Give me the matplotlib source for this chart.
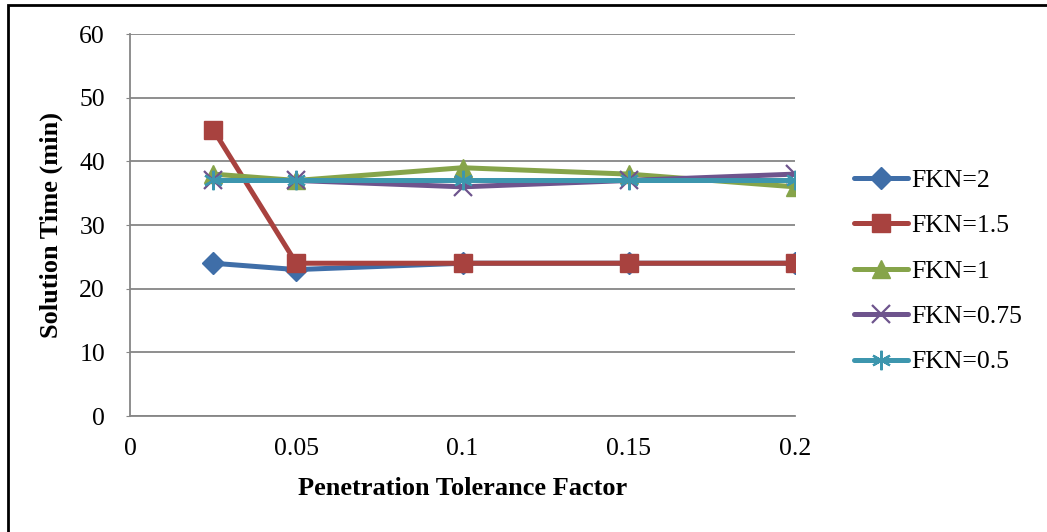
import matplotlib
matplotlib.use('Agg')
import matplotlib.pyplot as plt
from matplotlib.patches import Rectangle

# penetration tolerance factors and solution times (min)
tolerance = [0.025, 0.05, 0.1, 0.15, 0.2]
fkn_2 = [24, 23, 24, 24, 24]
fkn_1_5 = [45, 24, 24, 24, 24]
fkn_1 = [38, 37, 39, 38, 36]
fkn_0_75 = [37, 37, 36, 37, 38]
fkn_0_5 = [37, 37, 37, 37, 37]

labels = ['FKN=2', 'FKN=1.5', 'FKN=1', 'FKN=0.75', 'FKN=0.5']
x_ticks = [0, 0.05, 0.1, 0.15, 0.2]
x_ticklabels = ['0', '0.05', '0.1', '0.15', '0.2']

plt.rcParams['font.family'] = ['Liberation Serif', 'DejaVu Serif']

fig = plt.figure(figsize=(10.47, 5.32), dpi=100)
ax = fig.add_axes([0.1242, 0.218, 0.6351, 0.718])

grey = '#868686'
styles = [
    dict(color='#3F6EA8', marker='D', markersize=11),
    dict(color='#A8423F', marker='s', markersize=13.5),
    dict(color='#86A44A', marker='^', markersize=13.5),
    dict(color='#6E548D', marker='x', markersize=13, markeredgewidth=1.6),
    dict(color='#3D96AE', marker=(6, 2, 0), markersize=14, markeredgewidth=1.6),
]
series = [fkn_2, fkn_1_5, fkn_1, fkn_0_75, fkn_0_5]
for vals, lab, st in zip(series, labels, styles):
    ax.plot(tolerance, vals, label=lab, linewidth=3.6, solid_capstyle='round', **st)

ax.set_xlim(0, 0.2)
ax.set_ylim(0, 60)
ax.set_yticks(range(0, 61, 10))
ax.set_xticks(x_ticks)
ax.set_xticklabels(x_ticklabels)
ax.yaxis.grid(True, color=grey, linewidth=1.3)
ax.set_axisbelow(True)
for side in ['top', 'right']:
    ax.spines[side].set_visible(False)
for side in ['left', 'bottom']:
    ax.spines[side].set_color(grey)
    ax.spines[side].set_linewidth(1.3)
ax.tick_params(axis='y', length=3, color=grey, pad=15, labelsize=18.5)
ax.tick_params(axis='x', length=0, pad=16, labelsize=18.5)

ax.set_xlabel('Penetration Tolerance Factor', fontsize=19, fontweight='bold', labelpad=12)
ax.set_ylabel('Solution Time (min)', fontsize=19, fontweight='bold', labelpad=12)

fig.legend(loc='center left', bbox_to_anchor=(0.8032, 0.4900), frameon=False,
           fontsize=18.5, borderpad=0, labelspacing=0.87, handlelength=2.1,
           handletextpad=0.15)

# outer frame around the chart area
fig.patches.append(Rectangle((8 / 1047, -0.05), 1.2, 1 - 5 / 532 + 0.05,
                             transform=fig.transFigure, fill=False,
                             edgecolor='black', linewidth=2))

fig.savefig('out.png', dpi=100)
